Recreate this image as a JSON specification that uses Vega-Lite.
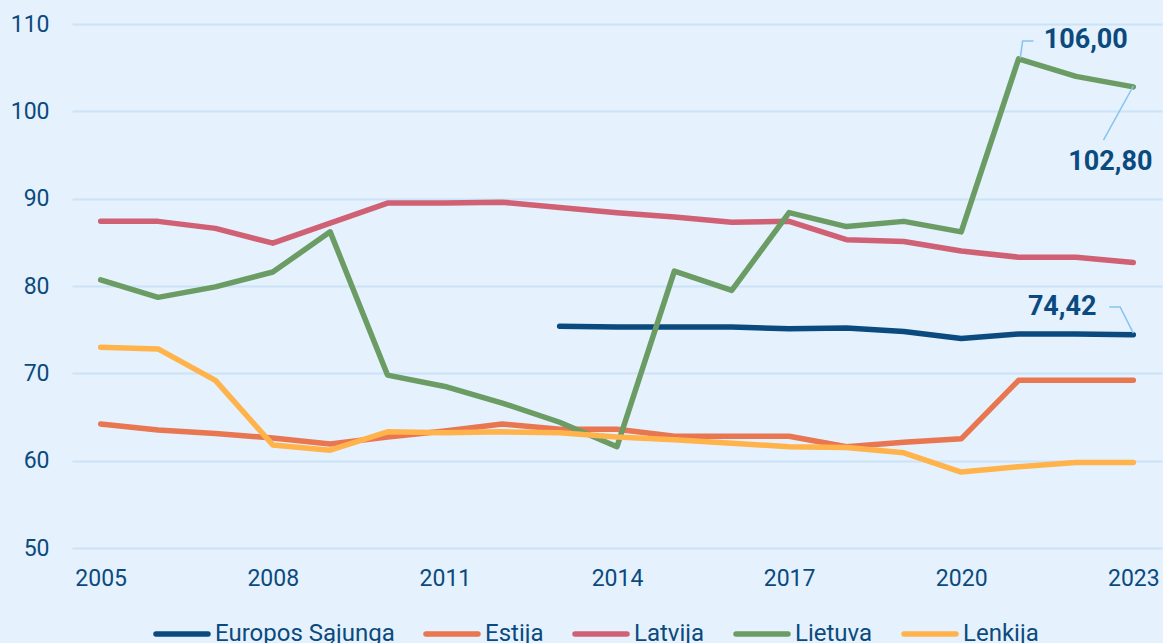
{
  "$schema": "https://vega.github.io/schema/vega-lite/v6.json",
  "width": 1090,
  "height": 524,
  "autosize": {"type": "none"},
  "padding": {"left": 72, "top": 24, "right": 1, "bottom": 95},
  "background": "#e5f1fc",
  "config": {
    "view": {"stroke": null},
    "font": "Roboto",
    "axis": {"labelFont": "Roboto", "labelColor": "#0b4a7e", "labelFontSize": 23, "ticks": false, "domain": false},
    "legend": {"labelFont": "Roboto", "labelColor": "#0b4a7e", "labelFontSize": 24, "labelLimit": 400}
  },
  "datasets": {
    "series": [
      {"year": 2013, "value": 75.4, "country": "Europos Sąjunga"},
      {"year": 2014, "value": 75.3, "country": "Europos Sąjunga"},
      {"year": 2015, "value": 75.3, "country": "Europos Sąjunga"},
      {"year": 2016, "value": 75.3, "country": "Europos Sąjunga"},
      {"year": 2017, "value": 75.1, "country": "Europos Sąjunga"},
      {"year": 2018, "value": 75.2, "country": "Europos Sąjunga"},
      {"year": 2019, "value": 74.8, "country": "Europos Sąjunga"},
      {"year": 2020, "value": 74.0, "country": "Europos Sąjunga"},
      {"year": 2021, "value": 74.5, "country": "Europos Sąjunga"},
      {"year": 2022, "value": 74.5, "country": "Europos Sąjunga"},
      {"year": 2023, "value": 74.42, "country": "Europos Sąjunga"},
      {"year": 2005, "value": 64.2, "country": "Estija"},
      {"year": 2006, "value": 63.5, "country": "Estija"},
      {"year": 2007, "value": 63.1, "country": "Estija"},
      {"year": 2008, "value": 62.6, "country": "Estija"},
      {"year": 2009, "value": 61.9, "country": "Estija"},
      {"year": 2010, "value": 62.7, "country": "Estija"},
      {"year": 2011, "value": 63.4, "country": "Estija"},
      {"year": 2012, "value": 64.2, "country": "Estija"},
      {"year": 2013, "value": 63.6, "country": "Estija"},
      {"year": 2014, "value": 63.6, "country": "Estija"},
      {"year": 2015, "value": 62.8, "country": "Estija"},
      {"year": 2016, "value": 62.8, "country": "Estija"},
      {"year": 2017, "value": 62.8, "country": "Estija"},
      {"year": 2018, "value": 61.6, "country": "Estija"},
      {"year": 2019, "value": 62.1, "country": "Estija"},
      {"year": 2020, "value": 62.5, "country": "Estija"},
      {"year": 2021, "value": 69.2, "country": "Estija"},
      {"year": 2022, "value": 69.2, "country": "Estija"},
      {"year": 2023, "value": 69.2, "country": "Estija"},
      {"year": 2005, "value": 87.4, "country": "Latvija"},
      {"year": 2006, "value": 87.4, "country": "Latvija"},
      {"year": 2007, "value": 86.6, "country": "Latvija"},
      {"year": 2008, "value": 84.9, "country": "Latvija"},
      {"year": 2009, "value": 87.2, "country": "Latvija"},
      {"year": 2010, "value": 89.5, "country": "Latvija"},
      {"year": 2011, "value": 89.5, "country": "Latvija"},
      {"year": 2012, "value": 89.6, "country": "Latvija"},
      {"year": 2013, "value": 89.0, "country": "Latvija"},
      {"year": 2014, "value": 88.4, "country": "Latvija"},
      {"year": 2015, "value": 87.9, "country": "Latvija"},
      {"year": 2016, "value": 87.3, "country": "Latvija"},
      {"year": 2017, "value": 87.4, "country": "Latvija"},
      {"year": 2018, "value": 85.3, "country": "Latvija"},
      {"year": 2019, "value": 85.1, "country": "Latvija"},
      {"year": 2020, "value": 84.0, "country": "Latvija"},
      {"year": 2021, "value": 83.3, "country": "Latvija"},
      {"year": 2022, "value": 83.3, "country": "Latvija"},
      {"year": 2023, "value": 82.7, "country": "Latvija"},
      {"year": 2005, "value": 80.7, "country": "Lietuva"},
      {"year": 2006, "value": 78.7, "country": "Lietuva"},
      {"year": 2007, "value": 79.9, "country": "Lietuva"},
      {"year": 2008, "value": 81.6, "country": "Lietuva"},
      {"year": 2009, "value": 86.2, "country": "Lietuva"},
      {"year": 2010, "value": 69.8, "country": "Lietuva"},
      {"year": 2011, "value": 68.5, "country": "Lietuva"},
      {"year": 2012, "value": 66.6, "country": "Lietuva"},
      {"year": 2013, "value": 64.4, "country": "Lietuva"},
      {"year": 2014, "value": 61.6, "country": "Lietuva"},
      {"year": 2015, "value": 81.7, "country": "Lietuva"},
      {"year": 2016, "value": 79.5, "country": "Lietuva"},
      {"year": 2017, "value": 88.4, "country": "Lietuva"},
      {"year": 2018, "value": 86.8, "country": "Lietuva"},
      {"year": 2019, "value": 87.4, "country": "Lietuva"},
      {"year": 2020, "value": 86.2, "country": "Lietuva"},
      {"year": 2021, "value": 106.0, "country": "Lietuva"},
      {"year": 2022, "value": 104.0, "country": "Lietuva"},
      {"year": 2023, "value": 102.8, "country": "Lietuva"},
      {"year": 2005, "value": 73.0, "country": "Lenkija"},
      {"year": 2006, "value": 72.8, "country": "Lenkija"},
      {"year": 2007, "value": 69.2, "country": "Lenkija"},
      {"year": 2008, "value": 61.8, "country": "Lenkija"},
      {"year": 2009, "value": 61.2, "country": "Lenkija"},
      {"year": 2010, "value": 63.3, "country": "Lenkija"},
      {"year": 2011, "value": 63.2, "country": "Lenkija"},
      {"year": 2012, "value": 63.3, "country": "Lenkija"},
      {"year": 2013, "value": 63.2, "country": "Lenkija"},
      {"year": 2014, "value": 62.7, "country": "Lenkija"},
      {"year": 2015, "value": 62.4, "country": "Lenkija"},
      {"year": 2016, "value": 62.0, "country": "Lenkija"},
      {"year": 2017, "value": 61.6, "country": "Lenkija"},
      {"year": 2018, "value": 61.5, "country": "Lenkija"},
      {"year": 2019, "value": 60.9, "country": "Lenkija"},
      {"year": 2020, "value": 58.7, "country": "Lenkija"},
      {"year": 2021, "value": 59.3, "country": "Lenkija"},
      {"year": 2022, "value": 59.8, "country": "Lenkija"},
      {"year": 2023, "value": 59.8, "country": "Lenkija"}
    ],
    "leaders": [
      {"seg": "a", "ord": 1, "year": 2021.03, "value": 106.1},
      {"seg": "a", "ord": 2, "year": 2021.07, "value": 108.05},
      {"seg": "a", "ord": 3, "year": 2021.26, "value": 108.05},
      {"seg": "b", "ord": 1, "year": 2023.0, "value": 102.9},
      {"seg": "b", "ord": 2, "year": 2022.48, "value": 96.7},
      {"seg": "c", "ord": 1, "year": 2022.58, "value": 77.6},
      {"seg": "c", "ord": 2, "year": 2022.77, "value": 77.6},
      {"seg": "c", "ord": 3, "year": 2023.0, "value": 74.6}
    ],
    "labels": [
      {"year": 2022.17, "value": 108.2, "label": "106,00"},
      {"year": 2022.6, "value": 94.2, "label": "102,80"},
      {"year": 2021.76, "value": 77.6, "label": "74,42"}
    ]
  },
  "layer": [
    {
      "data": {"name": "series"},
      "mark": {"type": "line", "strokeWidth": 5.5, "strokeCap": "round", "strokeJoin": "round"},
      "encoding": {
        "x": {"field": "year", "type": "quantitative", "scale": {"domain": [2004.5, 2023.5], "nice": false, "zero": false},
              "axis": {"values": [2005, 2008, 2011, 2014, 2017, 2020, 2023], "format": "d", "grid": false, "title": null, "labelPadding": 19}},
        "y": {"field": "value", "type": "quantitative", "scale": {"domain": [50, 110], "nice": false, "zero": false},
              "axis": {"values": [50, 60, 70, 80, 90, 100, 110], "title": null, "gridColor": "#cbe3f8", "gridWidth": 2, "labelPadding": 23}},
        "color": {"field": "country", "type": "nominal",
          "scale": {"domain": ["Europos Sąjunga", "Estija", "Latvija", "Lietuva", "Lenkija"],
                    "range": ["#0b4a7e", "#e87650", "#d06073", "#6a9c64", "#ffb34a"]},
          "legend": {"title": null, "orient": "none", "direction": "horizontal", "legendX": 81, "legendY": 581,
                     "symbolType": "stroke", "symbolSize": 2700, "symbolStrokeWidth": 5.5, "labelOffset": 4, "columnPadding": 20, "symbolOffset": 0,
                     "encode": {"symbols": {"update": {"strokeCap": {"value": "round"}}}}}}
      }
    },
    {
      "data": {"name": "leaders"},
      "mark": {"type": "line", "stroke": "#86c3f2", "strokeWidth": 1.5},
      "encoding": {
        "x": {"field": "year", "type": "quantitative"},
        "y": {"field": "value", "type": "quantitative"},
        "detail": {"field": "seg", "type": "nominal"},
        "order": {"field": "ord", "type": "quantitative"}
      }
    },
    {
      "data": {"name": "labels"},
      "mark": {"type": "text", "font": "Roboto", "fontWeight": "bold", "fontSize": 27, "color": "#0b4a7e", "align": "center", "baseline": "middle"},
      "encoding": {
        "x": {"field": "year", "type": "quantitative"},
        "y": {"field": "value", "type": "quantitative"},
        "text": {"field": "label", "type": "nominal"}
      }
    }
  ]
}
